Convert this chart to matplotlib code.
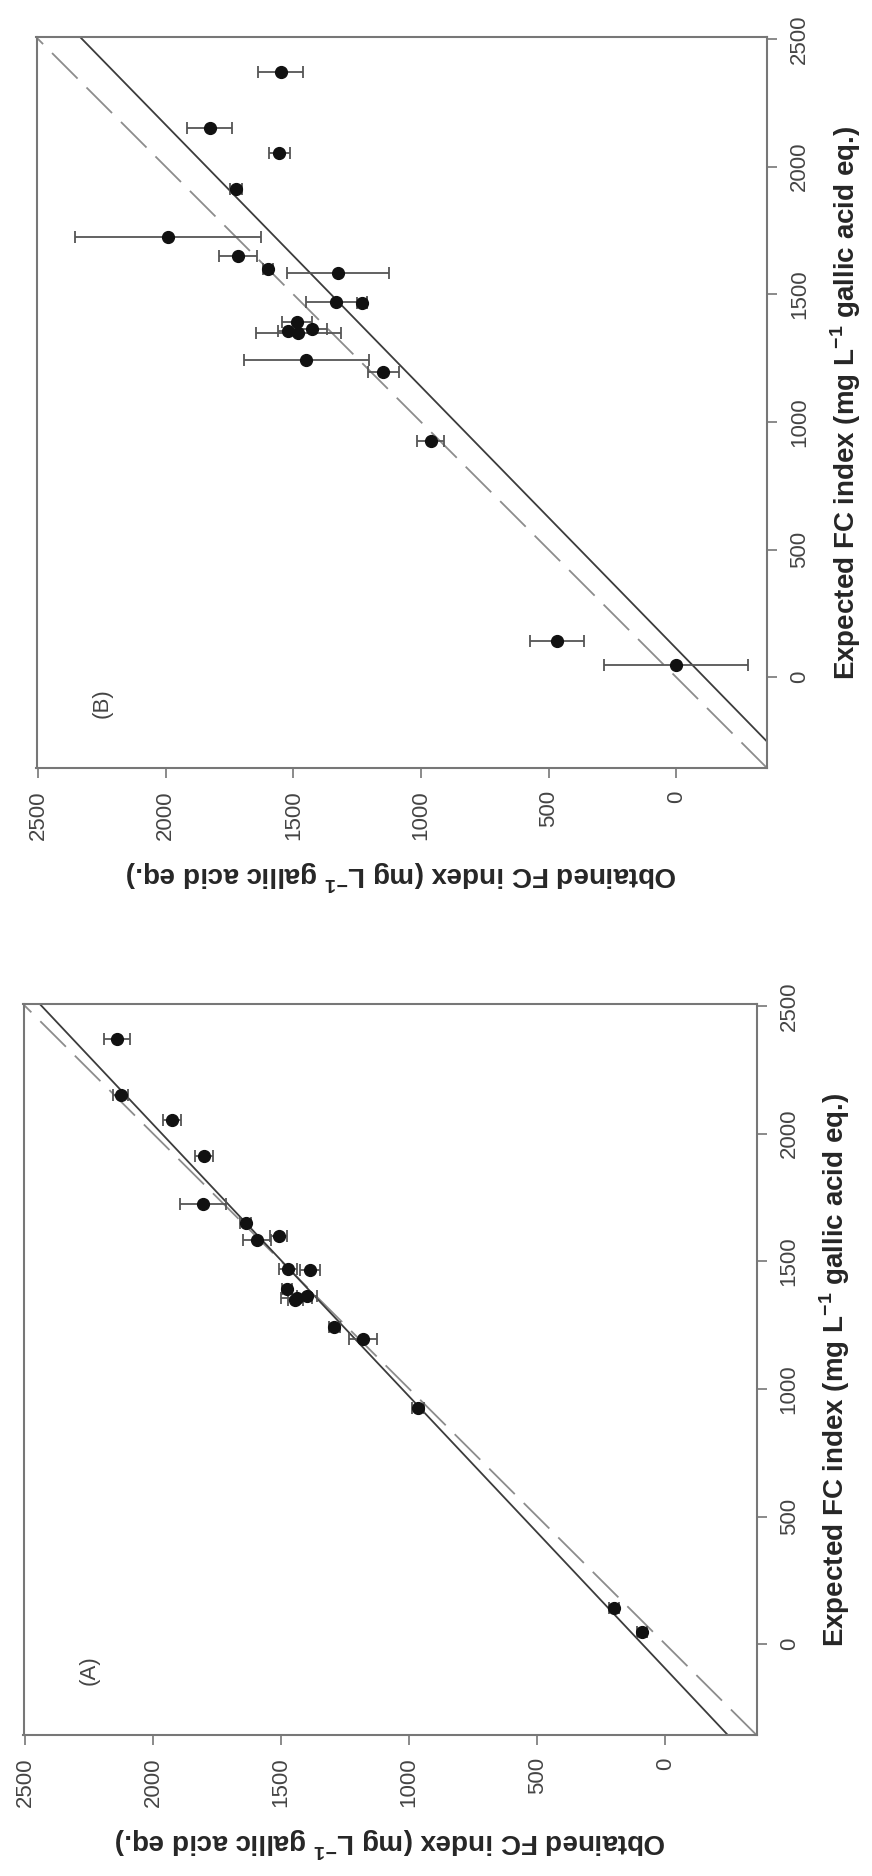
import matplotlib
matplotlib.use('Agg')
import numpy as np
import matplotlib.pyplot as plt

plt.rcParams['font.family'] = ['Liberation Sans', 'DejaVu Sans']
plt.rcParams['mathtext.fontset'] = 'custom'
plt.rcParams['mathtext.rm'] = 'Liberation Sans'
plt.rcParams['mathtext.bf'] = 'Liberation Sans:bold'

# expected FC index (mg/L gallic acid eq.), same samples in both panels
expected = [2372, 2152, 2055, 1912, 1725, 1650, 1600, 1582, 1471, 1467,
            1393, 1362, 1355, 1347, 1242, 1195, 925, 143, 47]

# panel A: obtained values and error
obtained_a = [2142, 2127, 1925, 1800, 1806, 1639, 1510, 1595, 1475, 1388,
              1478, 1400, 1439, 1445, 1292, 1181, 966, 200, 90]
err_a = [50, 30, 35, 35, 90, 20, 33, 55, 35, 40,
         20, 40, 60, 30, 20, 55, 25, 20, 20]

# panel B
obtained_b = [1550, 1828, 1554, 1724, 1990, 1717, 1598, 1325, 1332, 1232,
              1486, 1428, 1519, 1480, 1450, 1147, 962, 466, 0]
err_b = [87, 87, 43, 25, 364, 75, 20, 200, 120, 20,
         60, 60, 40, 166, 245, 61, 52, 106, 283]

# regression lines: obtained = a + b * expected
fit_a = (90, 0.938)
fit_b = (-110, 0.975)

ticks = [0, 500, 1000, 1500, 2000, 2500]
lim = (-356, 2506)

xlab = r'Obtained FC index (mg L$^{\mathbf{-1}}$ gallic acid eq.)'
ylab = r'Expected FC index (mg L$^{\mathbf{-1}}$ gallic acid eq.)'

txt = '#262626'
W, H = 872, 1876
fig = plt.figure(figsize=(W / 100, H / 100), dpi=100)
axB = fig.add_axes([36.5 / W, 1 - 768 / H, 730.5 / W, 730.5 / H])
axA = fig.add_axes([23.5 / W, 1 - 1735 / H, 733 / W, 730.5 / H])


def panel(ax, obt, err, fit, tag):
    # the figure is turned on its side: obtained runs right-to-left, expected upward
    ax.axline((0, 0), (1000, 1000), color='#8c8c8c', lw=1.3, dashes=(20, 7))
    a, b = fit
    ax.axline((a, 0), (a + b * 1000, 1000), color='#3c3c3c', lw=1.3)
    ax.errorbar(obt, expected, xerr=err, fmt='o', color='#111111', ms=8.5,
                ecolor='#555555', elinewidth=1.3, capsize=4.5, capthick=1.3)
    ax.set_xlim(lim[1], lim[0])
    ax.set_ylim(*lim)
    ax.set_xticks(ticks)
    ax.set_yticks(ticks)
    ax.yaxis.tick_right()
    ax.yaxis.set_label_position('right')
    ax.tick_params(axis='both', length=7, width=1.2, color='#777777',
                   labelsize=16, labelcolor='#444444', pad=9)
    for lb in ax.get_xticklabels():
        lb.set_rotation(90)
        lb.set_va('top')
        lb.set_ha('center')
    for lb in ax.get_yticklabels():
        lb.set_rotation(90)
        lb.set_va('center')
        lb.set_ha('left')
    ax.set_xlabel(xlab, rotation=180, fontsize=20, fontweight='bold', color=txt, labelpad=13)
    ax.set_ylabel(ylab, rotation=90, fontsize=20, fontweight='bold', color=txt, labelpad=13)
    for s in ax.spines.values():
        s.set_color('#777777')
        s.set_linewidth(1.5)
    ax.text(2250, -100, tag, rotation=90, ha='center', va='center', fontsize=16, color='#444444')


panel(axB, obtained_b, err_b, fit_b, '(B)')
panel(axA, obtained_a, err_a, fit_a, '(A)')

fig.savefig('out.png', dpi=100, facecolor='white')
